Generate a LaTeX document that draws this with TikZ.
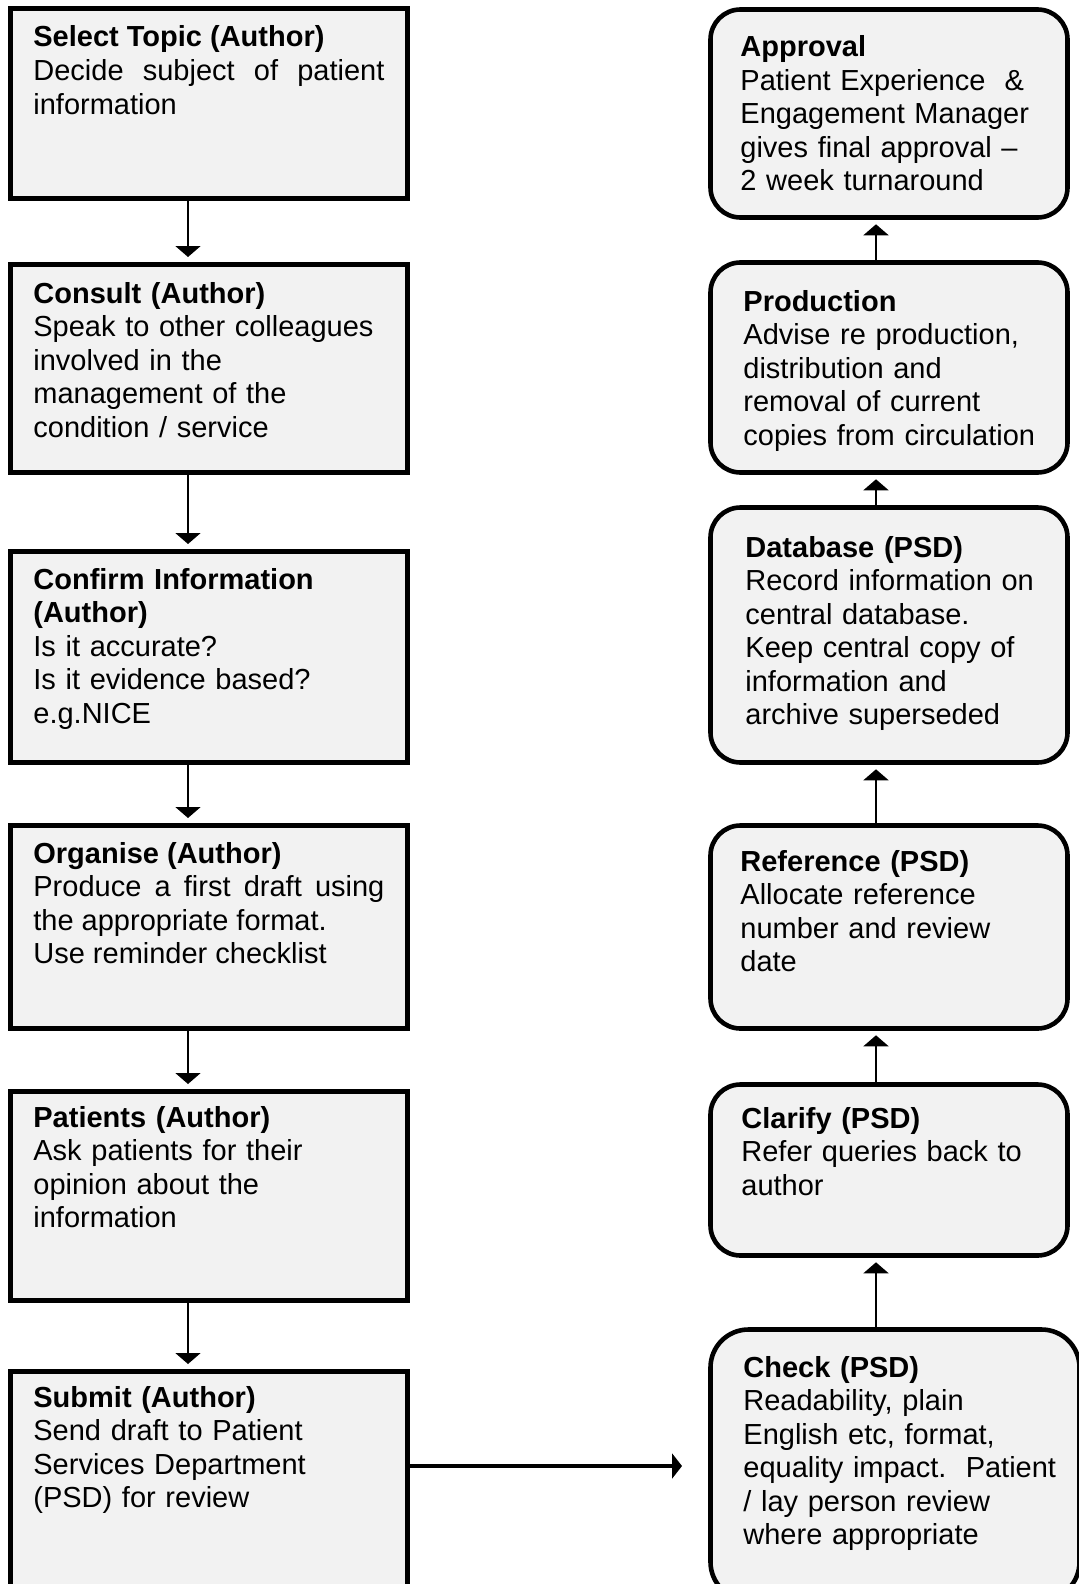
\documentclass[tikz,border=0pt]{standalone}
\usepackage{fontspec}
\setmainfont{Liberation Sans}
\usepackage{xcolor}
\usetikzlibrary{arrows.meta}
\definecolor{boxfill}{HTML}{F2F2F2}
\tikzset{
	authorbox/.style={
			rectangle, draw, line width=2.5pt, fill=boxfill,
			minimum width=198.5pt, inner sep=0pt
		},
	psdbox/.style={
			rectangle, draw, line width=2.3pt, fill=boxfill, rounded corners=15pt,
			minimum width=178.5pt, inner sep=0pt
		},
	boxtext/.style={
			anchor=base west, inner sep=0pt, align=left, text width=#1,
			font=\fontsize{14.5}{16.75}\selectfont
		},
	boxtext/.default=175.5pt,
	flow/.style={line width=1pt, -{Triangle[width=12.5pt,length=5.5pt]}},
	bigflow/.style={line width=2pt, -{Triangle[width=12.5pt,length=5pt]}}
}

\begin{document}
\begin{tikzpicture}[x=0.5pt, y=-0.5pt]
	\useasboundingbox (0,0) rectangle (1078,1584);

	\node[authorbox, minimum height=95pt] (select) at (209,103.5) {};
	\node[authorbox, minimum height=104pt] (consult) at (209,368.5) {};
	\node[authorbox, minimum height=105.5pt] (confirm) at (209,657) {};
	\node[authorbox, minimum height=101.5pt] (organise) at (209,927) {};
	\node[authorbox, minimum height=104.5pt] (patients) at (209,1196) {};
	\node[authorbox, minimum height=114.25pt] (submit) at (209,1485.75) {};

	\node[psdbox, minimum height=104pt] (approval) at (889,113.5) {};
	\node[psdbox, minimum height=105pt] (production) at (889,367.5) {};
	\node[psdbox, minimum height=127.5pt] (database) at (889,635) {};
	\node[psdbox, minimum height=101.5pt] (reference) at (889,927) {};
	\node[psdbox, minimum height=85.5pt] (clarify) at (889,1170) {};
	\node[psdbox, minimum height=135.25pt, minimum width=184.5pt, rounded corners=19pt] (check) at (895,1464.75) {};

	\node[boxtext, align=justify] (select-txt) at (33,47) {\textbf{Select Topic (Author)}\\
		Decide subject of patient\linebreak information};
	\node[boxtext] (consult-txt) at (33,303) {\textbf{Consult (Author)}\\
		Speak to other colleagues\\ involved in the\\ management of the\\ condition / service};
	\node[boxtext] (confirm-txt) at (33,589) {\textbf{Confirm Information}\\ \textbf{(Author)}\\
		Is it accurate?\\ Is it evidence based?\\ e.g.NICE};
	\node[boxtext, align=justify] (organise-txt) at (33,863) {\textbf{Organise (Author)}\\
		Produce a first draft using\linebreak the appropriate format.\\ Use reminder checklist};
	\node[boxtext] (patients-txt) at (33,1127) {\textbf{Patients (Author)}\\
		Ask patients for their\\ opinion about the\\ information};
	\node[boxtext] (submit-txt) at (33,1407) {\textbf{Submit (Author)}\\
		Send draft to Patient\\ Services Department\\ (PSD) for review};

	\node[boxtext=165pt] (approval-txt) at (740,57) {\textbf{Approval}\\
		Patient Experience~~\&\\ Engagement Manager\\ gives final approval –\\ 2 week turnaround};
	\node[boxtext=165pt] (production-txt) at (743,311) {\textbf{Production}\\
		Advise re production,\\ distribution and\\ removal of current\\ copies from circulation};
	\node[boxtext=165pt] (database-txt) at (745,557) {\textbf{Database (PSD)}\\
		Record information on\\ central database.\\ Keep central copy of\\ information and\\ archive superseded};
	\node[boxtext=165pt] (reference-txt) at (740,871) {\textbf{Reference (PSD)}\\
		Allocate reference\\ number and review\\ date};
	\node[boxtext=165pt] (clarify-txt) at (741,1128) {\textbf{Clarify (PSD)}\\
		Refer queries back to\\ author};
	\node[boxtext=165pt] (check-txt) at (743,1377) {\textbf{Check (PSD)}\\
		Readability, plain\\ English etc, format,\\ equality impact.~~Patient\\ / lay person review\\ where appropriate};

	\draw[flow, shorten >=2.5pt] ([xshift=-10.5pt]select.south) -- ([xshift=-10.5pt]consult.north);
	\draw[flow, shorten >=2.5pt] ([xshift=-10.5pt]consult.south) -- ([xshift=-10.5pt]confirm.north);
	\draw[flow, shorten >=2.5pt] ([xshift=-10.5pt]confirm.south) -- ([xshift=-10.5pt]organise.north);
	\draw[flow, shorten >=2.5pt] ([xshift=-10.5pt]organise.south) -- ([xshift=-10.5pt]patients.north);
	\draw[flow, shorten >=2.5pt] ([xshift=-10.5pt]patients.south) -- ([xshift=-10.5pt]submit.north);

	\coordinate (check-in) at (682,1466);
	\draw[bigflow] (submit.east |- check-in) -- (check-in);

	\draw[flow, shorten >=2.25pt] ([xshift=-9.5pt]check.north) -- ([xshift=-6.5pt]clarify.south);
	\draw[flow, shorten >=2.25pt] ([xshift=-6.5pt]clarify.north) -- ([xshift=-6.5pt]reference.south);
	\draw[flow, shorten >=2.25pt] ([xshift=-6.5pt]reference.north) -- ([xshift=-6.5pt]database.south);
	\draw[flow, shorten >=2.25pt] ([xshift=-6.5pt]database.north) -- ([xshift=-6.5pt]production.south);
	\draw[flow, shorten >=2.25pt] ([xshift=-6.5pt]production.north) -- ([xshift=-6.5pt]approval.south);
\end{tikzpicture}
\end{document}
